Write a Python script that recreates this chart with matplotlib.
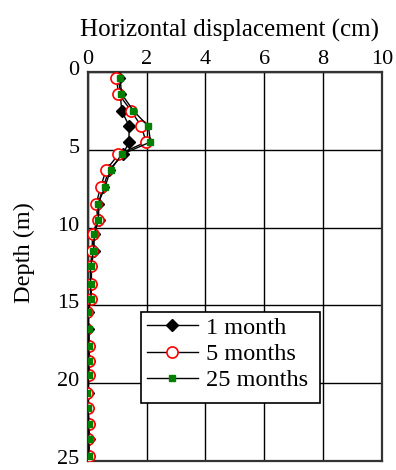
import matplotlib
matplotlib.use("Agg")
import matplotlib.pyplot as plt
from matplotlib.patches import Rectangle
from matplotlib.transforms import ScaledTranslation

plt.rcParams['font.family'] = ['Liberation Serif', 'DejaVu Serif']

# depth of each reading (m)
depth = [0.4, 1.4, 2.5, 3.5, 4.5, 5.3, 6.3, 7.4, 8.5, 9.5, 10.4, 11.5, 12.5,
         13.6, 14.6, 15.4, 16.5, 17.6, 18.6, 19.5, 20.6, 21.6, 22.6, 23.6, 24.7]

# horizontal displacement (cm)
disp_1m = [1.05, 1.10, 1.15, 1.41, 1.39, 1.20, 0.72, 0.52, 0.35, 0.38, 0.20,
           0.20, 0.12, 0.12, 0.10, 0.02, 0.02, 0.05, 0.05, 0.04, 0.00, 0.00,
           0.04, 0.04, 0.04]
disp_5m = [0.97, 1.04, 1.47, 1.82, 1.98, 1.04, 0.62, 0.43, 0.28, 0.34, 0.16,
           0.14, 0.09, 0.09, 0.11, -0.04, -0.06, 0.03, 0.03, 0.03, -0.04,
           -0.01, 0.03, -0.01, 0.03]
disp_25m = [1.10, 1.14, 1.55, 2.06, 2.13, 1.15, 0.77, 0.58, 0.34, 0.36, 0.22,
            0.19, 0.09, 0.09, 0.11, -0.01, 0.03, 0.03, 0.03, 0.03, -0.04,
            0.00, 0.03, 0.03, 0.03]

fig = plt.figure(figsize=(3.96, 4.70), dpi=100)
ax = fig.add_axes([0.222, 0.019, 0.742, 0.828])

ax.plot(disp_1m, depth, color='black', lw=1, marker='D', ms=6,
        mfc='black', mec='black', label='1 month', zorder=3)
ax.plot(disp_5m, depth, color='black', lw=1, marker='o', ms=8,
        mfc='white', mec='red', mew=1.2, label='5 months', zorder=4)
ax.plot(disp_25m, depth, color='black', lw=1, marker='s', ms=5,
        mfc='green', mec='green', label='25 months', zorder=5)

ax.set_xlim(0, 10)
ax.set_ylim(25, 0)
ax.set_xticks(range(0, 11, 2))
ax.set_yticks(range(0, 26, 5))
ax.xaxis.tick_top()
ax.xaxis.set_label_position('top')
ax.tick_params(length=0, labelsize=16)
ax.tick_params(axis='x', pad=2)
ax.tick_params(axis='y', pad=6)
ax.grid(True, color='black', lw=1)
ax.set_axisbelow(True)
for side in ['top', 'right', 'bottom', 'left']:
    ax.spines[side].set_color('#333333')
    ax.spines[side].set_linewidth(1.6)

# depth labels sit slightly above their grid lines
lift = ScaledTranslation(0, 0.04, fig.dpi_scale_trans)
for lbl in ax.get_yticklabels():
    lbl.set_transform(lbl.get_transform() + lift)

ax.set_xlabel('Horizontal displacement (cm)', fontsize=18)
ax.xaxis.set_label_coords(0.483, 1.092)
ax.set_ylabel('Depth (m)', fontsize=17.5)
ax.yaxis.set_label_coords(-0.18, 0.536)

# legend box drawn separately so it can be a bit taller than the entries
box = Rectangle((0.180, 0.149), 0.609, 0.233, transform=ax.transAxes,
                facecolor='white', edgecolor='black', lw=1.2, zorder=6)
ax.add_patch(box)
leg = ax.legend(loc='upper left', bbox_to_anchor=(0.2007, 0.371), fontsize=17.5,
                frameon=False, handlelength=2.1, handletextpad=0.33,
                labelspacing=0.18, borderpad=0, borderaxespad=0)
leg.set_zorder(7)

fig.savefig('out.png', dpi=100)
